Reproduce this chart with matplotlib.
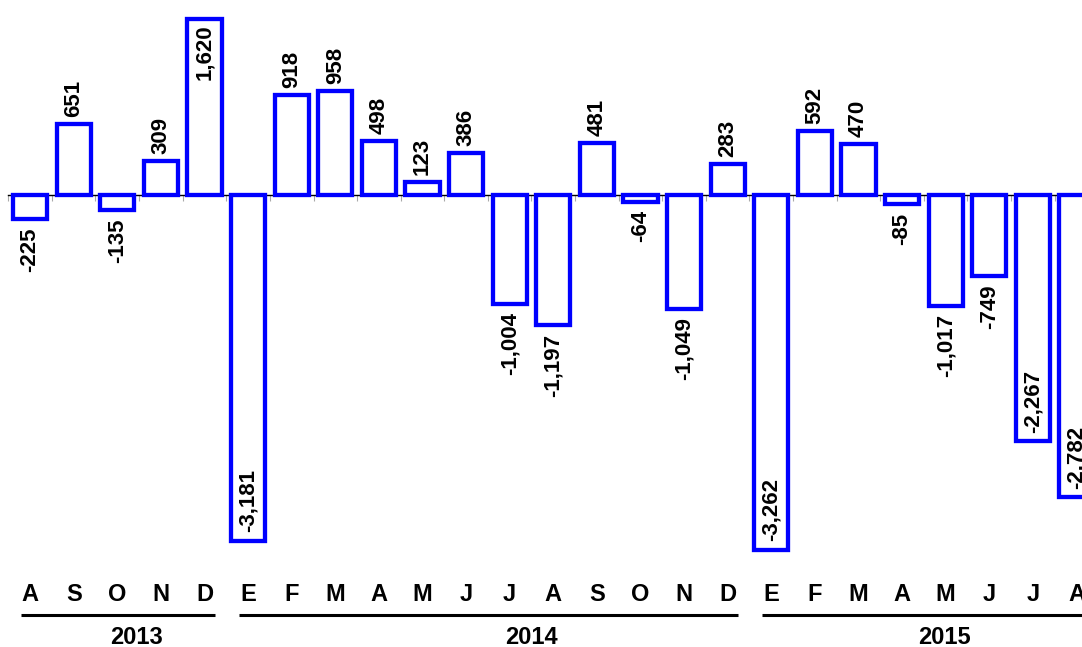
import matplotlib
matplotlib.use("Agg")
import matplotlib.pyplot as plt

plt.rcParams['font.family'] = ['Liberation Sans', 'DejaVu Sans']

# monthly values, Aug 2013 .. Aug 2015
months = ["A", "S", "O", "N", "D",
          "E", "F", "M", "A", "M", "J", "J", "A", "S", "O", "N", "D",
          "E", "F", "M", "A", "M", "J", "J", "A"]
values = [-225, 651, -135, 309, 1620,
          -3181, 918, 958, 498, 123, 386, -1004, -1197, 481, -64, -1049, 283,
          -3262, 592, 470, -85, -1017, -749, -2267, -2782]
years = ["2013", "2014", "2015"]
year_first = [0, 5, 17]
year_last = [4, 16, 24]
year_label_x = [2.44, 11.5, 20.96]

W, H = 1082, 647
ZERO_PX = 195.0
PX_PER_UNIT = 0.1087


def py(pixel_y):
    # pixel row from the top -> data value
    return -(pixel_y - ZERO_PX) / PX_PER_UNIT


fig = plt.figure(figsize=(W / 100, H / 100), dpi=100)
ax = fig.add_axes([0, 0, 1, 1])

x = list(range(len(values)))
ax.bar(x, values, width=0.78, color="white", edgecolor="#0000ff",
       linewidth=3.1, zorder=3)

# zero axis with small tick marks between bars
for s in ["top", "right", "left"]:
    ax.spines[s].set_visible(False)
ax.spines["bottom"].set_position(("data", 0))
ax.spines["bottom"].set_bounds(-0.5, len(values) - 0.5)
ax.spines["bottom"].set_linewidth(1.0)
ax.spines["bottom"].set_zorder(2)
ax.set_xticks([i - 0.5 for i in range(len(values) + 1)])
ax.set_xticklabels([])
ax.tick_params(axis="x", direction="out", length=4, width=0.8, colors="#aaaaaa")
ax.set_yticks([])

# limits last, set_xticks would widen them otherwise
ax.set_xlim(-30.1 / 43.6, (W - 30.1) / 43.6)
ax.set_ylim(py(H), py(0))

# value labels
for i, v in enumerate(values):
    label = f"{v:,}"
    inside = abs(v) > 1500
    if v >= 0:
        if inside:
            ax.annotate(label, (i, v), xytext=(0, -4), textcoords="offset points",
                        rotation=90, ha="center", va="top", fontsize=16,
                        fontweight="bold", zorder=4)
        else:
            ax.annotate(label, (i, v), xytext=(0, 5), textcoords="offset points",
                        rotation=90, ha="center", va="bottom", fontsize=16,
                        fontweight="bold", zorder=4)
    else:
        if inside:
            ax.annotate(label, (i, v), xytext=(0, 6), textcoords="offset points",
                        rotation=90, ha="center", va="bottom", fontsize=16,
                        fontweight="bold", zorder=4)
        else:
            ax.annotate(label, (i, v), xytext=(0, -6), textcoords="offset points",
                        rotation=90, ha="center", va="top", fontsize=16,
                        fontweight="bold", zorder=4)

# month letters
for i, m in enumerate(months):
    ax.text(i, py(594), m, ha="center", va="center", fontsize=17,
            fontweight="bold")

# year brackets
for yr, a, b, lx in zip(years, year_first, year_last, year_label_x):
    ax.plot([a - 0.22, b + 0.24], [py(615), py(615)], color="black",
            linewidth=2.2, solid_capstyle="butt")
    ax.text(lx, py(637), yr, ha="center", va="center", fontsize=17,
            fontweight="bold")

fig.savefig("out.png", dpi=100)
